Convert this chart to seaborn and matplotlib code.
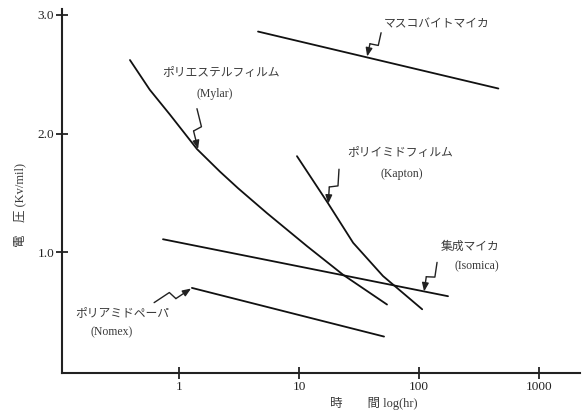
import numpy as np
import pandas as pd
import seaborn as sns
import matplotlib.pyplot as plt

# --- data (time in hr, voltage in Kv/mil) ---
mica_t = [4.55, 457]
mica_v = [2.86, 2.38]

mylar_t = [0.39, 0.57, 0.84, 1.41, 2.19, 3.10, 5.4, 11.7, 23.3, 54]
mylar_v = [2.62, 2.37, 2.16, 1.87, 1.68, 1.54, 1.33, 1.05, 0.81, 0.56]

kapton_t = [9.6, 17.5, 28.2, 50, 106]
kapton_v = [1.81, 1.41, 1.08, 0.80, 0.52]

isomica_t = [0.735, 174]
isomica_v = [1.11, 0.63]

nomex_t = [1.28, 51]
nomex_v = [0.70, 0.29]

x_ticks = [1, 10, 100, 1000]
x_ticklabels = ["1", "10", "100", "1000"]
y_ticks = [1.0, 2.0, 3.0]
y_ticklabels = ["1.0", "2.0", "3.0"]

series = {
    "mica": (mica_t, mica_v),
    "mylar": (mylar_t, mylar_v),
    "kapton": (kapton_t, kapton_v),
    "isomica": (isomica_t, isomica_v),
    "nomex": (nomex_t, nomex_v),
}
df = pd.concat(
    [pd.DataFrame({"t": t, "v": v, "name": k}) for k, (t, v) in series.items()],
    ignore_index=True,
)

sns.set_style("white")
JP = ["Liberation Serif", "Noto Sans CJK JP", "DejaVu Sans"]
plt.rcParams["font.family"] = JP
TXT = "#3a3a3a"

fig = plt.figure(figsize=(5.86, 4.12), dpi=100)
ax = fig.add_axes([62 / 586, 1 - 373 / 412, 518 / 586, 364 / 412])

sns.lineplot(
    data=df, x="t", y="v", units="name", estimator=None, sort=False,
    color="#111111", linewidth=1.3, ax=ax, legend=False,
)

ax.set_xscale("log")
ax.set_xlim(10 ** -0.975, 10 ** 3.34)
ax.set_ylim(-0.017, 3.05)
ax.set_xticks(x_ticks)
ax.set_xticklabels(x_ticklabels)
ax.set_yticks(y_ticks)
ax.set_yticklabels(y_ticklabels)
ax.minorticks_off()
ax.tick_params(bottom=True, left=True, direction="inout", length=9, width=1.3,
               labelsize=9.5, colors="#222222", pad=1)
ax.set_xlabel("")
ax.set_ylabel("")
for side in ["top", "right"]:
    ax.spines[side].set_visible(False)
for side in ["left", "bottom"]:
    ax.spines[side].set_linewidth(1.5)
    ax.spines[side].set_color("#222222")


def bolt(start, end, k=4):
    """little lightning-style leader from label to curve"""
    p0 = ax.transData.transform(start)
    p1 = ax.transData.transform(end)
    d = p1 - p0
    n = np.array([-d[1], d[0]]) / np.hypot(*d)
    pts = [p0, p0 + 0.45 * d + k * n, p0 + 0.55 * d - k * n]
    inv = ax.transData.inverted()
    data_pts = inv.transform(np.array(pts))
    ax.plot(data_pts[:, 0], data_pts[:, 1], color="#222222", lw=1.0)
    ax.annotate("", xy=end, xytext=tuple(data_pts[-1]),
                arrowprops=dict(arrowstyle="-|>,head_length=0.5,head_width=0.2",
                                color="#222222", lw=1.0, shrinkA=0, shrinkB=0))


labels = [
    ("マスコバイトマイカ", 141, 2.92),
    ("ポリエステルフィルム", 2.24, 2.51),
    ("(Mylar)", 2.0, 2.33),
    ("ポリイミドフィルム", 69.5, 1.84),
    ("(Kapton)", 72, 1.66),
    ("集成マイカ", 266, 1.05),
    ("(Isomica)", 302, 0.88),
    ("ポリアミドペーパ", 0.335, 0.49),
    ("(Nomex)", 0.276, 0.33),
]
for s, x, y in labels:
    ax.text(x, y, s, ha="center", va="center", fontsize=8.5, color=TXT)

bolt((48.2, 2.85), (36.9, 2.65))
bolt((1.41, 2.21), (1.44, 1.87))
bolt((21.5, 1.70), (17.5, 1.41))
bolt((141, 0.915), (110, 0.67))
bolt((0.62, 0.576), (1.26, 0.695))

fig.text(20 / 586, 1 - 205 / 412, "電　圧 (Kv/mil)", rotation=90,
         ha="center", va="center", fontsize=9, color=TXT)
fig.text(374 / 586, 1 - 403 / 412, "時　　間 log(hr)",
         ha="center", va="center", fontsize=9, color=TXT)

fig.savefig("out.png", dpi=100)
